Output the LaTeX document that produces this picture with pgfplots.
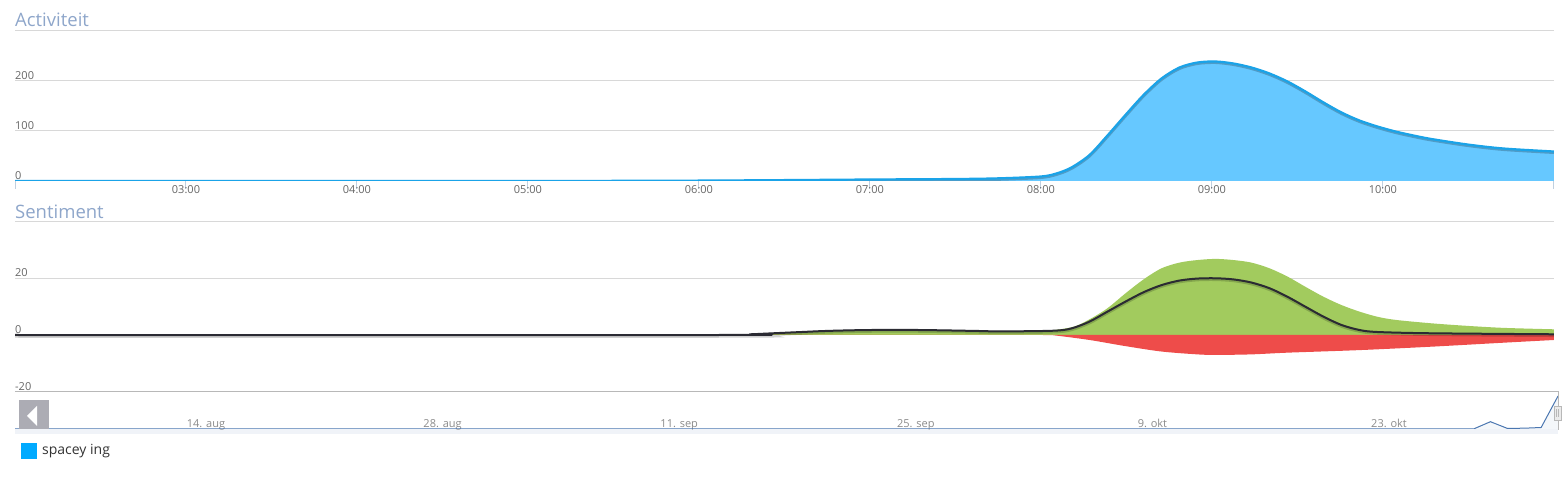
\documentclass[border=0pt]{standalone}
\usepackage{fontspec}
\setmainfont{Open Sans}
\usepackage{pgfplots}
\pgfplotsset{compat=1.18}
\definecolor{titlec}{HTML}{8EA6CA}
\definecolor{tickc}{HTML}{666666}
\definecolor{navtick}{HTML}{8A8A8A}
\definecolor{gridc}{HTML}{D8D8D8}
\definecolor{axisc}{HTML}{C0D0E0}
\definecolor{actfill}{HTML}{66C8FF}
\definecolor{actline}{HTML}{1AA3E8}
\definecolor{posc}{HTML}{A2CB5E}
\definecolor{negc}{HTML}{EE4C4A}
\definecolor{netc}{HTML}{2B2B33}
\definecolor{navc}{HTML}{4A76B0}
\definecolor{legc}{HTML}{00AAFF}
\definecolor{btnc}{HTML}{ACACB4}
\definecolor{navout}{HTML}{B8B8B8}
\definecolor{navband}{HTML}{F0F3F8}
\definecolor{handle}{HTML}{EBEBEB}
\definecolor{legtext}{HTML}{333333}

\pgfplotstableread{
t v
2 0
3 0
4 0
5 0
5.5 0.3
6 0.8
6.5 1.8
7 3
7.5 4
7.757 5.4
7.999 9
8.09 15
8.178 27
8.284 52
8.389 91
8.494 132
8.600 172
8.705 205
8.810 227
8.915 237
9.021 239
9.126 235
9.231 227
9.337 215
9.442 199
9.547 179
9.653 157
9.758 137
9.863 121
9.968 109
10.074 99
10.179 91
10.284 84
10.495 73
10.706 65
11.0 59
}\activity

\pgfplotstableread{
t v
2 0
6.12 0
6.3 0.25
6.47 0.7
6.62 1.1
6.76 1.45
7.0 1.75
7.29 1.75
7.64 1.4
7.968 1.2
8.178 2.7
8.284 5.5
8.389 9.4
8.494 14.6
8.600 19.5
8.705 23.4
8.810 25.4
8.915 26.3
9.021 26.7
9.126 26.3
9.231 25.4
9.337 23.4
9.442 20.5
9.547 16.9
9.653 13.4
9.758 10.5
9.863 8.2
9.968 6.4
10.074 5.3
10.284 4.1
10.495 3.2
10.706 2.5
11.0 2.0
}\positive

\pgfplotstableread{
t v
2 0
8.0 0
8.073 -0.1
8.284 -1.75
8.494 -3.9
8.705 -5.8
8.915 -6.8
9.021 -7.0
9.231 -6.8
9.442 -6.2
9.863 -5.3
10.284 -4.1
10.706 -2.7
11.0 -1.75
}\negative

\pgfplotstableread{
t v
2 0
6.12 0
6.3 0.25
6.47 0.7
6.62 1.1
6.76 1.45
7.0 1.75
7.29 1.75
7.64 1.4
7.757 1.25
8.073 1.5
8.178 2.3
8.284 4.7
8.389 8.2
8.494 11.7
8.600 15
8.705 17.5
8.810 19.1
8.915 19.8
9.021 19.9
9.126 19.5
9.231 18.4
9.337 16.4
9.442 13.4
9.547 9.9
9.653 6.4
9.758 3.5
9.863 1.75
9.968 1.05
10.284 0.6
11.0 0.25
}\net

\pgfplotstableread{
d v
-11.3 0
75 0
76 7.3
77 0.6
78 0.8
79 1.5
80 33
}\navigator

\begin{document}
\begin{tikzpicture}
\useasboundingbox (0pt,0pt) rectangle (1564pt,479pt);

% titles
\node[anchor=base west, inner sep=0pt, text=titlec, font=\fontsize{18.5}{20}\selectfont] at (15pt,452.3pt) {Activiteit};
\node[anchor=base west, inner sep=0pt, text=titlec, font=\fontsize{18.5}{20}\selectfont] at (15pt,260.3pt) {Sentiment};

% Activity
\begin{axis}[at={(15pt,298pt)}, anchor=south west, scale only axis,
  width=1539pt, height=150pt,
  xmin=2, xmax=11, ymin=0, ymax=300,
  axis lines=left, axis line style={-},
  y axis line style={draw=none},
  x axis line style={draw=axisc, line width=1pt},
  xtick={2,3,4,5,6,7,8,9,10,11},
  xticklabels={{},03:00,04:00,05:00,06:00,07:00,08:00,09:00,10:00,{}},
  ytick={0,100,200,300}, yticklabels={0,100,200,{}},
  tick align=outside, major tick length=8pt,
  xtick style={draw=axisc, line width=1pt},
  ytick style={draw=none},
  ymajorgrids, major grid style={draw=gridc, line width=1pt},
  xticklabel style={anchor=base, inner sep=0pt, yshift=-5pt, text=tickc, font=\fontsize{11}{12}\selectfont},
  yticklabel style={anchor=south west, inner sep=0pt, xshift=8pt, yshift=1.5pt, text=tickc, font=\fontsize{11}{12}\selectfont},
]
\addplot[fill=actfill, draw=none, smooth] table[x=t,y=v] {\activity} \closedcycle;
\addplot[draw=black, opacity=0.22, line width=3pt, smooth, yshift=-1pt] table[x=t,y=v] {\activity};
\addplot[draw=actline, line width=2.2pt, smooth, line join=round] table[x=t,y=v] {\activity};
\end{axis}

% Sentiment
\begin{axis}[at={(15pt,87pt)}, anchor=south west, scale only axis,
  width=1539pt, height=171pt,
  xmin=2, xmax=11, ymin=-20, ymax=40,
  axis line style={draw=none},
  ytick={-20,0,20,40}, yticklabels={-20,0,20,{}},
  xtick=\empty, tick style={draw=none},
  ymajorgrids, major grid style={draw=gridc, line width=1pt},
  yticklabel style={anchor=south west, inner sep=0pt, xshift=0pt, yshift=1.5pt, text=tickc, font=\fontsize{11}{12}\selectfont},
]
\addplot[fill=posc, draw=none, smooth] table[x=t,y=v] {\positive} \closedcycle;
\addplot[fill=negc, draw=none, smooth] table[x=t,y=v] {\negative} \closedcycle;
\addplot[draw=black, opacity=0.18, line width=3.5pt, smooth, yshift=-1pt] table[x=t,y=v] {\net};
\addplot[draw=netc, line width=2pt, smooth, line join=round] table[x=t,y=v] {\net};
\end{axis}

% Navigator
\fill[navband] (15pt,45pt) rectangle (1558pt,50pt);
\begin{axis}[at={(15pt,50pt)}, anchor=south west, scale only axis,
  width=1543pt, height=37pt,
  xmin=-11.3, xmax=80, ymin=0, ymax=37,
  axis line style={draw=none},
  xtick={0,14,28,42,56,70},
  xticklabels={14. aug,28. aug,11. sep,25. sep,9. okt,23. okt},
  ytick=\empty, tick style={draw=none},
  xticklabel style={anchor=base, inner sep=0pt, yshift=1pt, text=navtick, font=\fontsize{11}{12}\selectfont},
]
\addplot[fill=navc, fill opacity=0.06, draw=none] table[x=d,y=v] {\navigator} \closedcycle;
\addplot[draw=navc, line width=1pt] table[x=d,y=v] {\navigator};
\end{axis}
\draw[navout, line width=1pt] (15pt,87pt) -- (1558pt,87pt) -- (1558pt,49pt);

% left button
\fill[btnc] (19pt,50pt) rectangle (49pt,79pt);
\fill[white] (27pt,63pt) -- (37pt,73pt) -- (37pt,53pt) -- cycle;
% right handle
\filldraw[fill=handle, draw=navout, line width=0.8pt] (1554pt,59pt) rectangle (1561pt,73pt);
\draw[navout, line width=0.6pt] (1556.5pt,62pt) -- (1556.5pt,70pt) (1558.5pt,62pt) -- (1558.5pt,70pt);

% legend
\fill[legc] (21pt,20pt) rectangle (37pt,36pt);
\node[anchor=base west, inner sep=0pt, text=legtext, font=\fontsize{14}{16}\selectfont] at (42pt,24pt) {spacey ing};
\end{tikzpicture}
\end{document}
